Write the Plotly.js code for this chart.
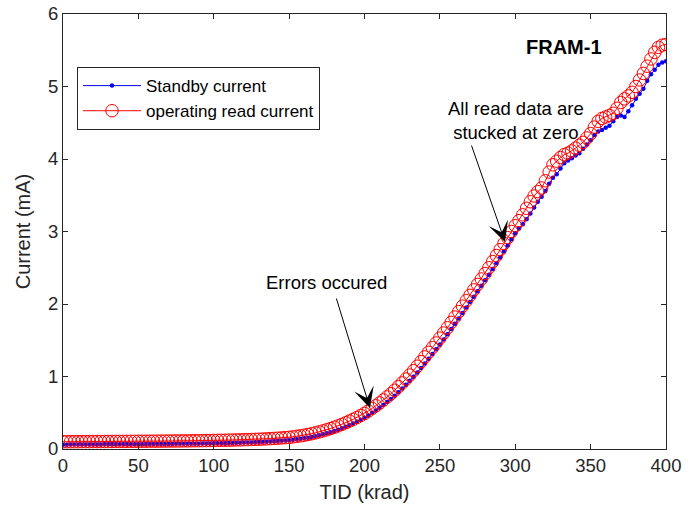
<!DOCTYPE html>
<html>
<head>
<meta charset="utf-8">
<script src="https://cdn.plot.ly/plotly-3.0.1.min.js"></script>
<style>
html,body{margin:0;padding:0;background:#fff;}
#chart{width:694px;height:512px;}
</style>
</head>
<body>
<div id="chart"></div>
<script>
// TID dose (krad)
var tid = [
0,2.5,5,7.5,10,12.5,15,17.5,20,22.5,25,27.5,30,32.5,35,37.5,40,42.5,45,47.5,
50,52.5,55,57.5,60,62.5,65,67.5,70,72.5,75,77.5,80,82.5,85,87.5,90,92.5,95,97.5,
100,102.5,105,107.5,110,112.5,115,117.5,120,122.5,125,127.5,130,132.5,135,137.5,140,142.5,145,147.5,
150,152.5,155,157.5,160,162.5,165,167.5,170,172.5,175,177.5,180,182.5,185,187.5,190,192.5,195,197.5,
200,202.5,205,207.5,210,212.5,215,217.5,220,222.5,225,227.5,230,232.5,235,237.5,240,242.5,245,247.5,
250,252.5,255,257.5,260,262.5,265,267.5,270,272.5,275,277.5,280,282.5,285,287.5,290,292.5,295,297.5,
300,302.5,305,307.5,310,312.5,315,317.5,320,322.5,325,327.5,330,332.5,335,337.5,340,342.5,345,347.5,
350,352.5,355,357.5,360,362.5,365,367.5,370,372.5,375,377.5,380,382.5,385,387.5,390,392.5,395,397.5,
400
];
// Standby current (mA)
var standby = [
0.060,0.060,0.061,0.061,0.061,0.062,0.062,0.062,0.063,0.063,0.063,0.064,0.064,0.064,0.065,0.065,0.065,0.066,0.066,0.066,
0.067,0.067,0.067,0.068,0.068,0.068,0.069,0.069,0.070,0.070,0.071,0.071,0.072,0.072,0.073,0.074,0.074,0.075,0.076,0.077,
0.078,0.079,0.080,0.081,0.082,0.083,0.085,0.086,0.088,0.089,0.091,0.093,0.095,0.097,0.100,0.103,0.106,0.109,0.113,0.117,
0.121,0.126,0.133,0.140,0.147,0.156,0.166,0.177,0.189,0.202,0.216,0.231,0.248,0.266,0.285,0.306,0.328,0.351,0.376,0.402,
0.430,0.462,0.496,0.531,0.568,0.607,0.648,0.691,0.736,0.784,0.834,0.886,0.940,0.997,1.056,1.117,1.180,1.244,1.309,1.375,
1.442,1.511,1.582,1.654,1.727,1.801,1.876,1.951,2.026,2.101,2.176,2.251,2.326,2.403,2.482,2.562,2.643,2.725,2.808,2.892,
2.975,3.040,3.100,3.170,3.250,3.330,3.410,3.480,3.560,3.660,3.740,3.790,3.870,3.940,3.980,4.010,4.050,4.080,4.140,4.200,
4.260,4.330,4.380,4.400,4.430,4.460,4.520,4.580,4.600,4.580,4.660,4.740,4.830,4.900,4.970,5.080,5.170,5.230,5.300,5.330,
5.350
];
// Operating read current (mA)
var operating = [
0.100,0.100,0.101,0.101,0.101,0.102,0.102,0.102,0.103,0.103,0.103,0.104,0.104,0.104,0.105,0.105,0.105,0.106,0.106,0.106,
0.107,0.107,0.107,0.108,0.108,0.108,0.109,0.109,0.110,0.110,0.111,0.111,0.112,0.112,0.113,0.114,0.114,0.115,0.116,0.117,
0.118,0.119,0.120,0.121,0.122,0.123,0.125,0.126,0.128,0.129,0.131,0.133,0.135,0.137,0.140,0.143,0.146,0.149,0.153,0.157,
0.161,0.167,0.175,0.182,0.190,0.200,0.211,0.223,0.236,0.250,0.265,0.282,0.300,0.319,0.340,0.362,0.385,0.409,0.435,0.462,
0.490,0.524,0.559,0.596,0.635,0.676,0.718,0.762,0.810,0.860,0.912,0.965,1.020,1.080,1.142,1.205,1.270,1.333,1.397,1.462,
1.530,1.600,1.672,1.745,1.820,1.895,1.970,2.045,2.120,2.195,2.270,2.345,2.420,2.500,2.585,2.668,2.750,2.835,2.915,3.000,
3.080,3.150,3.230,3.320,3.410,3.490,3.550,3.600,3.700,3.820,3.920,3.970,4.020,4.060,4.080,4.110,4.150,4.190,4.230,4.290,
4.350,4.440,4.520,4.560,4.580,4.600,4.630,4.700,4.780,4.830,4.870,4.920,5.000,5.090,5.180,5.280,5.380,5.470,5.540,5.570,
5.580
];
var seriesNames = ["Standby current", "operating read current"];
var xTickVals = [0,50,100,150,200,250,300,350,400];
var yTickVals = [0,1,2,3,4,5,6];

var FONT = "Liberation Sans, Arial, Helvetica, sans-serif";
var AX = "#262626";

var traces = [
  {
    x: tid, y: standby, name: seriesNames[0], type: "scatter", mode: "lines+markers",
    line: {color: "#0000ff", width: 1},
    marker: {color: "#0000ff", size: 4.5, symbol: "circle"}
  },
  {
    x: tid, y: operating, name: seriesNames[1], type: "scatter", mode: "lines+markers",
    line: {color: "#ff0000", width: 1},
    marker: {color: "#ff0000", size: 12.5, symbol: "circle-open", line: {color: "#ff0000", width: 1}}
  }
];

var layout = {
  width: 694, height: 512,
  margin: {l: 63, r: 28, t: 14, b: 63, pad: 0},
  paper_bgcolor: "#ffffff", plot_bgcolor: "#ffffff",
  font: {family: FONT, color: AX},
  showlegend: true,
  xaxis: {
    range: [0, 400], tickvals: xTickVals, ticks: "inside", ticklen: 5, tickwidth: 1,
    tickcolor: AX, showline: true, linecolor: AX, linewidth: 1, mirror: "ticks",
    showgrid: false, zeroline: false, tickfont: {size: 18.5, color: AX, family: FONT},
    title: {text: "TID (krad)", font: {size: 20, color: AX, family: FONT}, standoff: 9},
    automargin: false
  },
  yaxis: {
    range: [0, 6], tickvals: yTickVals, ticks: "inside", ticklen: 5, tickwidth: 1,
    tickcolor: AX, showline: true, linecolor: AX, linewidth: 1, mirror: "ticks",
    showgrid: false, zeroline: false, tickfont: {size: 18.5, color: AX, family: FONT},
    title: {text: "Current (mA)", font: {size: 20, color: AX, family: FONT}, standoff: 12},
    automargin: false
  },
  legend: {
    x: 0.0232, y: 0.878, xanchor: "left", yanchor: "top",
    bordercolor: AX, borderwidth: 1, bgcolor: "#ffffff",
    font: {size: 17, color: "#000000", family: FONT},
    itemwidth: 58, tracegroupgap: 0
  },
  annotations: [
    {x: 332.3, y: 5.545, xref: "x", yref: "y", text: "<b>FRAM-1</b>", showarrow: false,
     font: {size: 20, color: "#000000", family: FONT}, xanchor: "center", yanchor: "middle"},
    {x: 300.5, y: 4.538, xref: "x", yref: "y", text: "All read data are<br>stucked at zero", showarrow: false,
     font: {size: 18.5, color: "#000000", family: FONT}, xanchor: "center", yanchor: "middle"},
    {x: 175.1, y: 2.29, xref: "x", yref: "y", text: "Errors occured", showarrow: false,
     font: {size: 18.5, color: "#000000", family: FONT}, xanchor: "center", yanchor: "middle"},
    {x: 203.6, y: 0.566, xref: "x", yref: "y", text: "", showarrow: true,
     ax: -34, ay: -111, arrowhead: 3, arrowsize: 3.4, arrowwidth: 1, arrowcolor: "#000000"},
    {x: 293.2, y: 2.855, xref: "x", yref: "y", text: "", showarrow: true,
     ax: -34, ay: -98, arrowhead: 3, arrowsize: 3.4, arrowwidth: 1, arrowcolor: "#000000"}
  ]
};

Plotly.newPlot("chart", traces, layout, {displayModeBar: false, staticPlot: true});
</script>
</body>
</html>
